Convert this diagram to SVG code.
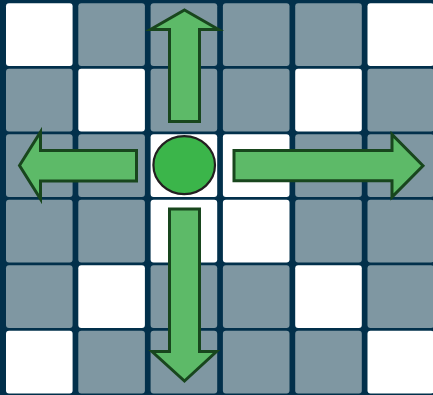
<svg xmlns="http://www.w3.org/2000/svg" width="433" height="395" viewBox="0 0 433 395">
  <style>
    .w { fill: #ffffff; }
    .g { fill: #7f97a2; }
    .arrow { fill: #5dba68; stroke: #18461d; stroke-width: 3; stroke-linejoin: miter; }
  </style>
  <rect x="0" y="0" width="433" height="395" fill="#02304b"/>
  <g id="grid">
    <!-- row 0 -->
    <rect class="w" x="6" y="3.3" width="66.6" height="62.6" rx="3"/>
    <rect class="g" x="78.3" y="3.3" width="66.6" height="62.6" rx="3"/>
    <rect class="g" x="150.6" y="3.3" width="66.6" height="62.6" rx="3"/>
    <rect class="g" x="222.9" y="3.3" width="66.6" height="62.6" rx="3"/>
    <rect class="g" x="295.2" y="3.3" width="66.6" height="62.6" rx="3"/>
    <rect class="w" x="367.5" y="3.3" width="66.6" height="62.6" rx="3"/>
    <!-- row 1 -->
    <rect class="g" x="6" y="68.8" width="66.6" height="62.6" rx="3"/>
    <rect class="w" x="78.3" y="68.8" width="66.6" height="62.6" rx="3"/>
    <rect class="g" x="150.6" y="68.8" width="66.6" height="62.6" rx="3"/>
    <rect class="g" x="222.9" y="68.8" width="66.6" height="62.6" rx="3"/>
    <rect class="w" x="295.2" y="68.8" width="66.6" height="62.6" rx="3"/>
    <rect class="g" x="367.5" y="68.8" width="66.6" height="62.6" rx="3"/>
    <!-- row 2 -->
    <rect class="g" x="6" y="134.3" width="66.6" height="62.6" rx="3"/>
    <rect class="g" x="78.3" y="134.3" width="66.6" height="62.6" rx="3"/>
    <rect class="w" x="150.6" y="134.3" width="66.6" height="62.6" rx="3"/>
    <rect class="w" x="222.9" y="134.3" width="66.6" height="62.6" rx="3"/>
    <rect class="g" x="295.2" y="134.3" width="66.6" height="62.6" rx="3"/>
    <rect class="g" x="367.5" y="134.3" width="66.6" height="62.6" rx="3"/>
    <!-- row 3 -->
    <rect class="g" x="6" y="199.8" width="66.6" height="62.6" rx="3"/>
    <rect class="g" x="78.3" y="199.8" width="66.6" height="62.6" rx="3"/>
    <rect class="w" x="150.6" y="199.8" width="66.6" height="62.6" rx="3"/>
    <rect class="w" x="222.9" y="199.8" width="66.6" height="62.6" rx="3"/>
    <rect class="g" x="295.2" y="199.8" width="66.6" height="62.6" rx="3"/>
    <rect class="g" x="367.5" y="199.8" width="66.6" height="62.6" rx="3"/>
    <!-- row 4 -->
    <rect class="g" x="6" y="265.3" width="66.6" height="62.6" rx="3"/>
    <rect class="w" x="78.3" y="265.3" width="66.6" height="62.6" rx="3"/>
    <rect class="g" x="150.6" y="265.3" width="66.6" height="62.6" rx="3"/>
    <rect class="g" x="222.9" y="265.3" width="66.6" height="62.6" rx="3"/>
    <rect class="w" x="295.2" y="265.3" width="66.6" height="62.6" rx="3"/>
    <rect class="g" x="367.5" y="265.3" width="66.6" height="62.6" rx="3"/>
    <!-- row 5 -->
    <rect class="w" x="6" y="330.8" width="66.6" height="62.6" rx="3"/>
    <rect class="g" x="78.3" y="330.8" width="66.6" height="62.6" rx="3"/>
    <rect class="g" x="150.6" y="330.8" width="66.6" height="62.6" rx="3"/>
    <rect class="g" x="222.9" y="330.8" width="66.6" height="62.6" rx="3"/>
    <rect class="g" x="295.2" y="330.8" width="66.6" height="62.6" rx="3"/>
    <rect class="w" x="367.5" y="330.8" width="66.6" height="62.6" rx="3"/>
  </g>
  <g id="arrows">
    <path id="arrow-up" class="arrow" d="M184.5,10 L218.5,29.5 L199.5,29.5 L199.5,121.5 L169.5,121.5 L169.5,29.5 L150.5,29.5 Z"/>
    <path id="arrow-down" class="arrow" d="M184.5,381 L216.5,351.5 L199.5,351.5 L199.5,209 L169.5,209 L169.5,351.5 L152,351.5 Z"/>
    <path id="arrow-left" class="arrow" d="M19.5,165.5 L40.5,132 L40.5,150.5 L136.5,150.5 L136.5,181 L40.5,181 L40.5,199 Z"/>
    <path id="arrow-right" class="arrow" d="M423,165.7 L392,134.5 L392,150.5 L234,150.5 L234,180.8 L392,180.8 L392,197 Z"/>
  </g>
  <g id="robot">
    <ellipse cx="184.2" cy="165.1" rx="30.8" ry="29" fill="#3bb54a" stroke="#231f20" stroke-width="2.2"/>
  </g>
</svg>
